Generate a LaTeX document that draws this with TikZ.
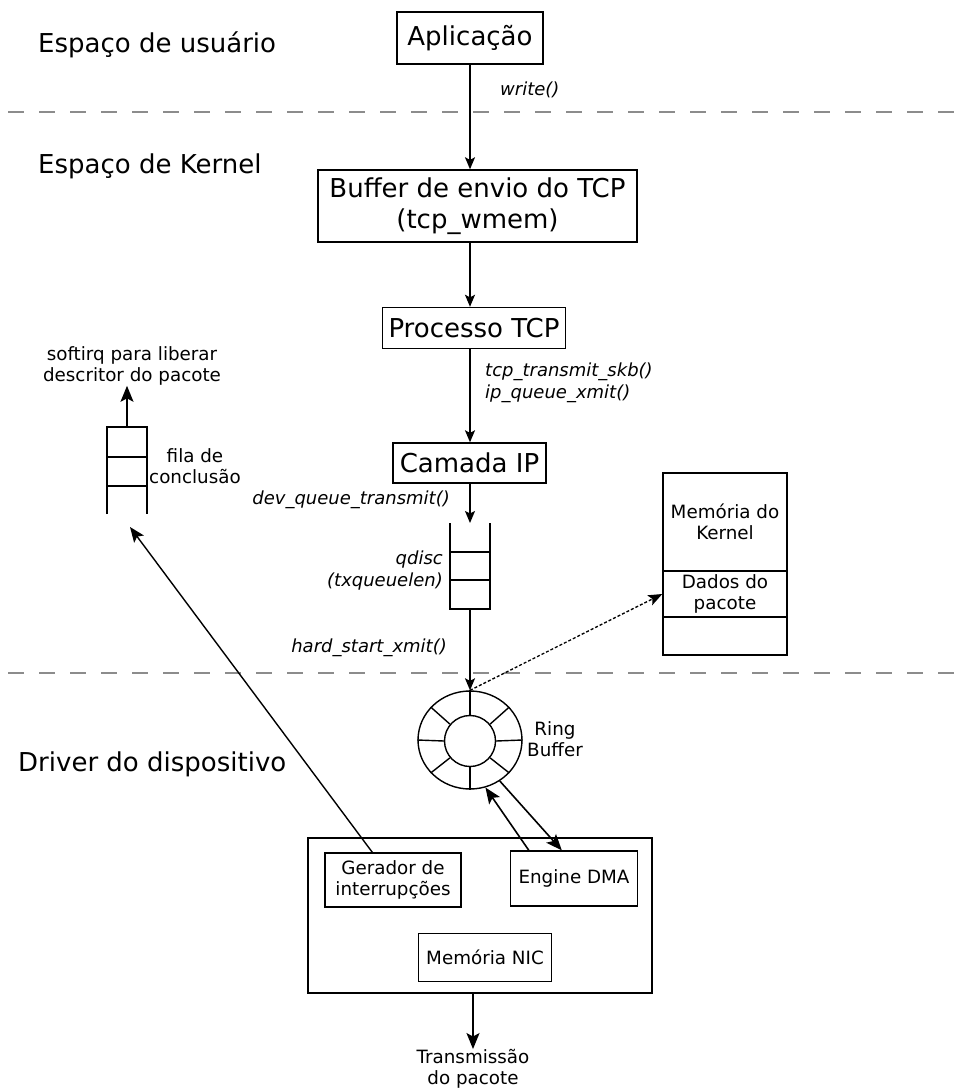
\documentclass[tikz,border=0pt]{standalone}
\usepackage{fontspec}
\setmainfont{DejaVu Sans}[ItalicFont={DejaVu Sans Oblique}]
\usetikzlibrary{arrows.meta,shapes.geometric,calc}
\begin{document}
\begin{tikzpicture}[x=1pt,y=-1pt,
  every node/.style={inner sep=0pt},
  box/.style={draw, line width=1.4pt, align=center},
  big/.style={font=\fontsize{26}{31.5}\selectfont},
  small/.style={font=\fontsize{18.3}{21.5}\selectfont, align=center},
  lab/.style={font=\fontsize{18}{22}\selectfont\itshape},
  ln/.style={line width=1.4pt},
  arr/.style={line width=1.4pt, -{Stealth[length=12pt,width=10pt,inset=2.5pt]}},
  barr/.style={line width=1.6pt, -{Stealth[length=16pt,width=13pt,inset=3.5pt]}},
  sep/.style={draw=black!45, line width=2pt, dash pattern=on 16pt off 15pt},
]
\useasboundingbox (0,0) rectangle (966,1089);

% separators
\draw[sep] (8,112) -- (966,112);
\draw[sep] (8,673) -- (966,673);

% region titles
\node[big,anchor=west] (t1) at (38,45) {Espaço de usuário};
\node[big,anchor=west] (t2) at (38,166) {Espaço de Kernel};
\node[big,anchor=west] (t3) at (18,764) {Driver do dispositivo};

% main chain
\node[box,big,minimum width=146pt,minimum height=52pt] (app) at (470,38) {Aplicação};
\node[box,big,minimum width=319pt,minimum height=72pt] (buf) at (477.5,206) {Buffer de envio do TCP\\(tcp\_wmem)};
\node[box,big,minimum width=183pt,minimum height=41pt] (proc) at (474,328) {Processo TCP};
\node[box,big,minimum width=153pt,minimum height=40pt] (ip) at (469.5,463) {Camada IP};

\draw[arr] (app.south) -- (app.south |- buf.north);
\draw[arr] (app.south |- buf.south) -- (app.south |- proc.north);
\draw[arr] (app.south |- proc.south) -- (app.south |- ip.north);

\node[lab,anchor=west] (lw) at (500,90) {write()};
\node[lab,anchor=west,align=left] (ltcp) at (485,383) {tcp\_transmit\_skb()\\ip\_queue\_xmit()};
\node[lab,anchor=east] (ldev) at (450,500) {dev\_queue\_transmit()};
\node[lab,anchor=east,align=right] (lq) at (443,571) {qdisc\\(txqueuelen)};
\node[lab,anchor=east] (lh) at (447,648) {hard\_start\_xmit()};

% qdisc queue
\coordinate (qtop) at (470,523);
\coordinate (qbot) at (470,609);
\draw[ln] (450,523) -- (450,609) -- (490,609) -- (490,523)
          (450,552) -- (490,552) (450,580) -- (490,580);
\draw[arr] (app.south |- ip.south) -- (qtop);

% ring buffer
\node[draw,ellipse,ln,minimum width=104pt,minimum height=98pt] (ring) at (470,740) {};
\node[draw,circle,ln,minimum size=51pt] (rin) at (470,741) {};
\foreach \a in {0,40,90,140,180,220,270,320} \draw[ln] (rin.\a) -- (ring.\a);
\draw[arr] (qbot) -- (ring.north);
\node[small] (lring) at (555,739) {Ring\\Buffer};

% kernel memory
\node[box,small,minimum width=124pt,minimum height=98pt] (memk) at (725,522) {Memória do\\Kernel};
\node[box,small,minimum width=124pt,minimum height=46pt] (memd) at (725,594) {Dados do\\pacote};
\node[box,minimum width=124pt,minimum height=38pt] (meme) at (725,636) {};
\draw[line width=1.3pt, dash pattern=on 3pt off 2pt, -{Stealth[length=14pt,width=11pt,inset=3pt]}] (ring.north) -- (memd.west);

% completion queue
\draw[ln] (107,514) -- (107,427) -- (147,427) -- (147,514)
          (107,457) -- (147,457) (107,486) -- (147,486);
\coordinate (ftop) at (127,427);
\coordinate (fbot) at (130,527);
\node[small] (soft) at (132,366) {softirq para liberar\\descritor do pacote};
\draw[barr] (ftop) -- (ftop |- soft.south);
\node[small] (lfila) at (195,466) {fila de\\conclusão};

% NIC
\node[box,minimum width=344pt,minimum height=155pt] (nic) at (480,915.5) {};
\node[box,small,minimum width=136pt,minimum height=54pt] (gen) at (393,880) {Gerador de\\interrupções};
\node[box,small,minimum width=127pt,minimum height=55pt] (dma) at (574,878.5) {Engine DMA};
\node[box,small,minimum width=133pt,minimum height=48pt] (nicm) at (485,957.5) {Memória NIC};

\draw[line width=1.4pt,-{Stealth[length=15pt,width=12pt,inset=3pt]}] ($(gen.north west)+(48,0)$) -- (fbot);
\draw[barr] (ring.-54) -- ($(dma.north west)+(52,0)$);
\draw[barr] ($(dma.north west)+(19,0)$) -- (ring.-72);

\node[small] (tx) at (473,1069) {Transmissão\\do pacote};
\draw[barr] (nic.south -| tx.north) -- (tx.north);
\end{tikzpicture}
\end{document}
